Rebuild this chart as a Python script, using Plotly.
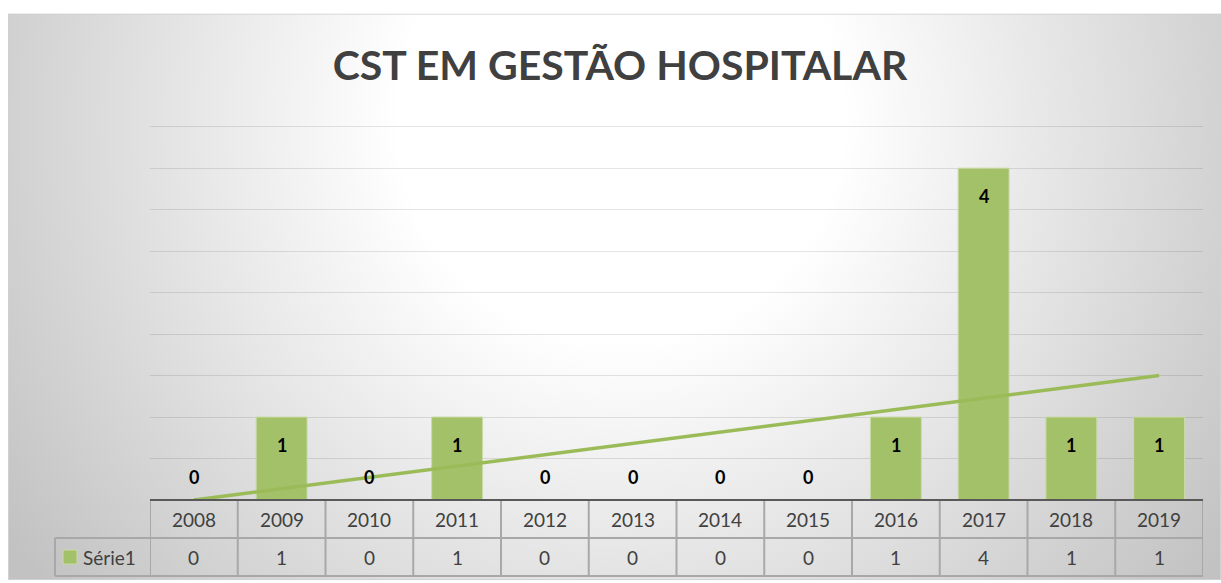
import base64
import numpy as np
import plotly.graph_objects as go

# ---- data ----
years = ["2008", "2009", "2010", "2011", "2012", "2013", "2014", "2015", "2016", "2017", "2018", "2019"]
serie1 = [0, 1, 0, 1, 0, 0, 0, 0, 1, 4, 1, 1]
series_name = "Série1"
title_text = "CST EM GESTÃO HOSPITALAR"

# ---- geometry (pixels) ----
W, H = 1221, 583
YMAX = 4.52
L, R, B = 150, 1203, 500
UNIT = (500 - 127) / 4.5
T = B - YMAX * UNIT
PW, PH = R - L, B - T


def px(x):
    return (x - L) / PW


def py(y):
    return (B - y) / PH


GREEN = "#a3c169"
TREND = "#9BBB59"
TXT = "#404040"
FONT = "Lato"

# radial gradient background as svg
svg = f"""<svg xmlns='http://www.w3.org/2000/svg' width='1213' height='566' viewBox='0 0 1213 566'>
<defs><radialGradient id='g' gradientUnits='userSpaceOnUse' cx='612' cy='106' r='740'>
<stop offset='0' stop-color='#ffffff'/><stop offset='0.3' stop-color='#ffffff'/>
<stop offset='1' stop-color='#c2c2c2'/></radialGradient></defs>
<rect x='0' y='0' width='1213' height='566' fill='url(#g)'/>
<rect x='0.5' y='0.5' width='1212' height='565' fill='none' stroke='#d0d0d0' stroke-width='1'/>
</svg>"""
bg_uri = "data:image/svg+xml;base64," + base64.b64encode(svg.encode()).decode()

fig = go.Figure()
fig.add_trace(go.Bar(
    x=years, y=serie1, name=series_name,
    marker=dict(color=GREEN, line=dict(color="#c9dba6", width=1)),
    hoverinfo="x+y",
))

idx = np.arange(len(serie1))
slope, icpt = np.polyfit(idx, serie1, 1)
trend = slope * idx + icpt
fig.add_trace(go.Scatter(
    x=years, y=trend, mode="lines",
    line=dict(color=TREND, width=3.5), hoverinfo="skip",
))

annotations = []
# data labels (x given as category index)
for k, v in enumerate(serie1):
    annotations.append(dict(
        x=k, y=v, xref="x", yref="y", text=str(v), showarrow=False,
        yanchor="middle", yshift=(-28 if v > 0 else 23),
        font=dict(family=FONT, size=18, color="#000000", weight="bold"),
    ))

# data table text
for k, (yr, v) in enumerate(zip(years, serie1)):
    annotations.append(dict(
        x=k, y=py(519), xref="x", yref="paper", text=yr, showarrow=False,
        yanchor="middle", font=dict(family=FONT, size=19, color=TXT),
    ))
    annotations.append(dict(
        x=k, y=py(557), xref="x", yref="paper", text=str(v), showarrow=False,
        yanchor="middle", font=dict(family=FONT, size=19, color=TXT),
    ))
annotations.append(dict(
    x=px(81), y=py(557), xref="paper", yref="paper", text=series_name, showarrow=False,
    xanchor="left", yanchor="middle", font=dict(family=FONT, size=19, color=TXT),
))

shapes = []
LINE = dict(color="#a8a8a8", width=2)
# horizontal table lines
shapes.append(dict(type="line", xref="paper", yref="paper", x0=0, x1=1, y0=py(538), y1=py(538), line=LINE))
shapes.append(dict(type="line", xref="paper", yref="paper", x0=px(55), x1=1, y0=py(576), y1=py(576), line=LINE))
shapes.append(dict(type="line", xref="paper", yref="paper", x0=px(55), x1=0, y0=py(538), y1=py(538), line=LINE))
shapes.append(dict(type="line", xref="paper", yref="paper", x0=px(55), x1=px(55), y0=py(538), y1=py(576), line=LINE))
# vertical table lines at category boundaries
for k in range(len(years) + 1):
    shapes.append(dict(type="line", xref="x", yref="paper", x0=k - 0.5, x1=k - 0.5,
                       y0=py(500), y1=py(576), line=LINE))
# axis baseline
shapes.append(dict(type="line", xref="paper", yref="paper", x0=0, x1=1, y0=0, y1=0,
                   line=dict(color="#595959", width=2)))
# legend key
shapes.append(dict(type="rect", xref="paper", yref="paper", x0=px(63), x1=px(77),
                   y0=py(564), y1=py(550), fillcolor=GREEN, line=dict(color="#c9dba6", width=1)))

fig.update_layout(
    width=W, height=H,
    margin=dict(l=L, r=W - R, t=T, b=H - B, pad=0),
    paper_bgcolor="white", plot_bgcolor="rgba(0,0,0,0)",
    showlegend=False,
    bargap=0.42,
    title=dict(text=title_text, x=620 / W, xanchor="center", y=(H - 66) / H, yanchor="middle",
               font=dict(family=FONT, size=41, color=TXT, weight="bold")),
    xaxis=dict(type="category", showticklabels=False, showgrid=False, zeroline=False, showline=False,
               range=[-0.5, len(years) - 0.5]),
    yaxis=dict(range=[0, YMAX], tick0=0, dtick=0.5, showticklabels=False, showgrid=True,
               gridcolor="rgba(0,0,0,0.1)", gridwidth=1, zeroline=False, showline=False),
    images=[dict(source=bg_uri, xref="paper", yref="paper", x=px(8), y=py(14),
                 sizex=(W - 8) / PW, sizey=(580 - 14) / PH, sizing="stretch",
                 xanchor="left", yanchor="top", layer="below")],
    annotations=annotations,
    shapes=shapes,
)

fig.write_html("out.html", config={"displayModeBar": False},
               post_script="document.body.style.margin='0';")
